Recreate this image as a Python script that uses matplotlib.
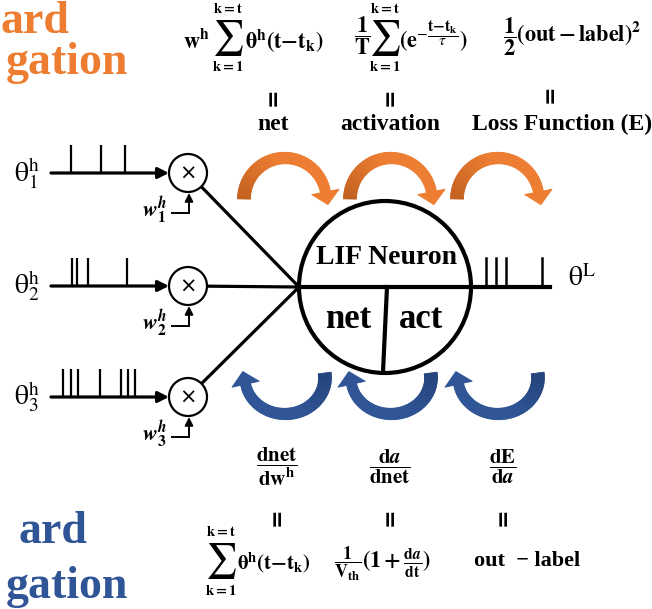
import numpy as np
import matplotlib
matplotlib.use('Agg')
import matplotlib.pyplot as plt
from matplotlib.patches import Circle, Polygon
from matplotlib.colors import to_rgb

plt.rcParams['mathtext.fontset'] = 'stix'
plt.rcParams['font.family'] = ['Liberation Serif', 'DejaVu Serif']

# ---------------- data / text content ----------------
input_labels = [r'$\mathrm{\theta}_1^{\mathrm{h}}$', r'$\mathrm{\theta}_2^{\mathrm{h}}$',
                r'$\mathrm{\theta}_3^{\mathrm{h}}$']
weight_labels = [r'$\boldsymbol{w}_{\mathbf{1}}^{\boldsymbol{h}}$',
                 r'$\boldsymbol{w}_{\mathbf{2}}^{\boldsymbol{h}}$',
                 r'$\boldsymbol{w}_{\mathbf{3}}^{\boldsymbol{h}}$']
input_spikes = [[21, 51, 75], [22, 27, 38, 77], [13, 21, 28, 50, 71, 78, 85]]
output_spikes = [15, 25, 35, 71]
output_label = r'$\mathrm{\theta}^{\mathrm{L}}$'
neuron_label = 'LIF Neuron'
neuron_parts = ['net', 'act']
forward_terms = ['net', 'activation', 'Loss Function (E)']
sum_sign = r'$\sum$'
sum_upper = r'$\mathbf{k{=}t}$'
sum_lower = r'$\mathbf{k{=}1}$'
net_prefix = r'$\mathbf{w^h}$'
net_body = r'$\mathbf{\theta}^{\mathbf{h}}\mathbf{(t{-}t_k)}$'
act_prefix = r'$\mathbf{\dfrac{1}{T}}$'
act_body = r'$\mathbf{(e}^{-\dfrac{\mathbf{t{-}t_k}}{\tau}}\mathbf{)}$'
loss_formula = r'$\mathbf{\dfrac{1}{2}(out-label)^2}$'
backward_derivs = [
    r'$\dfrac{\mathbf{dnet}}{\mathbf{dw^h}}$',
    r'$\dfrac{\mathbf{d}\boldsymbol{a}}{\mathbf{dnet}}$',
    r'$\dfrac{\mathbf{dE}}{\mathbf{d}\boldsymbol{a}}$',
]
vth_prefix = r'$\dfrac{\mathbf{1}}{\mathbf{V_{th}}}$'
vth_body = r'$\mathbf{(1+}\frac{\mathbf{d}\boldsymbol{a}}{\mathbf{dt}}\mathbf{)}$'
loss_grad = 'out  − label'
titles = [('ard', 'gation'), ('ard', 'gation')]

# ---------------- layout ----------------
W, H = 652, 609
ORANGE, ORANGE_D = '#ED7D31', '#C2601E'
BLUE, BLUE_D = '#2F5597', '#22427A'
input_y = [173, 286, 397]
line_x0 = 51
mult_x, mult_r = 188, 19
ncx, ncy, nr = 385, 287, 86
out_x1 = 550
arc_cx = [285, 391, 498]
col_x_top = [273, 390, 550]
col_x_bot = [277, 390, 503]

fig = plt.figure(figsize=(W / 100, H / 100), dpi=100)
ax = fig.add_axes([0, 0, 1, 1])
ax.set_xlim(0, W)
ax.set_ylim(H, 0)
ax.axis('off')


def band_arrow(pts, hw_tail, hw_head, head_w, head_len, c_tail, c_head, fade):
    pts = np.asarray(pts)
    d = np.gradient(pts, axis=0)
    d /= np.linalg.norm(d, axis=1)[:, None]
    n = np.stack([-d[:, 1], d[:, 0]], axis=1)
    hw = np.linspace(hw_tail, hw_head, len(pts))
    left = pts + n * hw[:, None]
    right = pts - n * hw[:, None]
    c0, c1 = np.array(to_rgb(c_tail)), np.array(to_rgb(c_head))
    N = len(pts)
    for i in range(N - 1):
        f = min(1.0, i / (fade * (N - 1)))
        col = c0 * (1 - f) + c1 * f
        ax.add_patch(Polygon([left[i], left[i + 1], right[i + 1], right[i]],
                             closed=True, fc=col, ec=col, lw=0.6))
    p, t, nn = pts[-1], d[-1], n[-1]
    ax.add_patch(Polygon([p + nn * head_w, p + t * head_len, p - nn * head_w],
                         closed=True, fc=c1, ec=c1, lw=0.6))


def big_sum(x, y, top, bottom, size=25, lim_size=10.5):
    ax.text(x, y, sum_sign, ha='center', va='center', fontsize=size)
    ax.text(x, top, sum_upper, ha='center', va='center', fontsize=lim_size)
    ax.text(x, bottom, sum_lower, ha='center', va='center', fontsize=lim_size)


# forward (orange) curved arrows
for cx in arc_cx:
    th = np.radians(np.linspace(180, 10, 80))
    pts = np.stack([cx + 41 * np.cos(th), 199 - 41 * np.sin(th)], axis=1)
    band_arrow(pts, 6.5, 5, 14, 13, ORANGE_D, ORANGE, 0.45)

# backward (blue) curved arrows
for cx in arc_cx:
    th = np.radians(np.linspace(-8, 170, 80))
    pts = np.stack([cx + 40 * np.cos(th), 378 + 36 * np.sin(th)], axis=1)
    band_arrow(pts, 6.5, 5, 14, 13, BLUE_D, BLUE, 0.45)

# inputs
for i, y in enumerate(input_y):
    ax.annotate('', xy=(mult_x - mult_r, y), xytext=(line_x0, y),
                arrowprops=dict(arrowstyle='-|>', lw=2.3, color='black',
                                mutation_scale=16, shrinkA=0, shrinkB=0))
    for s in input_spikes[i]:
        ax.plot([line_x0 - 1 + s, line_x0 - 1 + s], [y, y - 28], color='black', lw=1.6,
                solid_capstyle='butt')
    ax.add_patch(Circle((mult_x, y), mult_r, fc='white', ec='black', lw=1.6, zorder=3))
    ax.text(mult_x, y + 1, '×', ha='center', va='center', fontsize=15,
            family='DejaVu Sans', zorder=4)
    ax.text(27, y, input_labels[i], ha='center', va='center', fontsize=20)
    # weight arrow
    ax.plot([172, mult_x + 1], [y + 40, y + 40], color='black', lw=1.4)
    ax.annotate('', xy=(mult_x + 1, y + mult_r + 1), xytext=(mult_x + 1, y + 40),
                arrowprops=dict(arrowstyle='-|>', lw=1.4, color='black',
                                mutation_scale=12, shrinkA=0, shrinkB=0))
    ax.text(154, y + 37, weight_labels[i], ha='center', va='center', fontsize=16)
    # connection to neuron
    ang = np.arctan2(ncy - y, (ncx - nr) - mult_x)
    ax.plot([mult_x + mult_r * np.cos(ang), ncx - nr], [y + mult_r * np.sin(ang), ncy],
            color='black', lw=2.3, zorder=2)

# neuron
ax.add_patch(Circle((ncx, ncy), nr, fc='white', ec='black', lw=3.0, zorder=3))
ax.plot([ncx - nr, out_x1], [ncy, ncy], color='black', lw=3.0, zorder=4)
ax.plot([ncx + 2, ncx - 2], [ncy, ncy + nr - 1], color='black', lw=3.0, zorder=4)
for s in output_spikes:
    ax.plot([ncx + nr + s, ncx + nr + s], [ncy, ncy - 29], color='black', lw=1.8)
ax.text(582, 279, output_label, ha='center', va='center', fontsize=20)
ax.text(387, 258, neuron_label, ha='center', va='center', fontsize=20,
        fontweight='bold', zorder=5)
ax.text(348, 320, neuron_parts[0], ha='center', va='center', fontsize=25,
        fontweight='bold', zorder=5)
ax.text(421, 320, neuron_parts[1], ha='center', va='center', fontsize=25,
        fontweight='bold', zorder=5)

# ---- forward formulas ----
ax.text(183, 41, net_prefix, ha='left', va='center', fontsize=16)
big_sum(228, 38, 9, 67)
ax.text(245, 41, net_body, ha='left', va='center', fontsize=16)

ax.text(362, 36, act_prefix, ha='center', va='center', fontsize=16)
big_sum(385, 38, 9, 67)
ax.text(399, 36, act_body, ha='left', va='center', fontsize=16)

ax.text(503, 37, loss_formula, ha='left', va='center', fontsize=16)

for i in range(3):
    ax.text(col_x_top[i], 97 if i < 2 else 94, '=', rotation=90, ha='center', va='center',
            fontsize=16, fontweight='bold', family='DejaVu Sans')
    ax.text(col_x_top[i] + (12 if i == 2 else 0), 124, forward_terms[i], ha='center',
            va='center', fontsize=17, fontweight='bold')

# ---- backward formulas ----
for i in range(3):
    ax.text(col_x_bot[i], 467, backward_derivs[i], ha='center', va='center', fontsize=15)
    ax.text(col_x_bot[i], 517, '=', rotation=90, ha='center', va='center',
            fontsize=16, fontweight='bold', family='DejaVu Sans')

big_sum(221, 561, 532, 591)
ax.text(237, 563, net_body, ha='left', va='center', fontsize=15)
ax.text(348, 564, vth_prefix, ha='center', va='center', fontsize=13)
ax.text(362, 563, vth_body, ha='left', va='center', fontsize=16)
ax.text(527, 561, loss_grad, ha='center', va='center', fontsize=16, fontweight='bold')

# ---- side titles (only the visible part of the words) ----
ax.text(1, 33, titles[0][0], ha='left', va='baseline', fontsize=33, fontweight='bold',
        color=ORANGE)
ax.text(128, 74, titles[0][1], ha='right', va='baseline', fontsize=33, fontweight='bold',
        color=ORANGE)
ax.text(87, 543, titles[1][0], ha='right', va='baseline', fontsize=33, fontweight='bold',
        color=BLUE)
ax.text(128, 598, titles[1][1], ha='right', va='baseline', fontsize=33, fontweight='bold',
        color=BLUE)

fig.savefig('out.png', dpi=100)
